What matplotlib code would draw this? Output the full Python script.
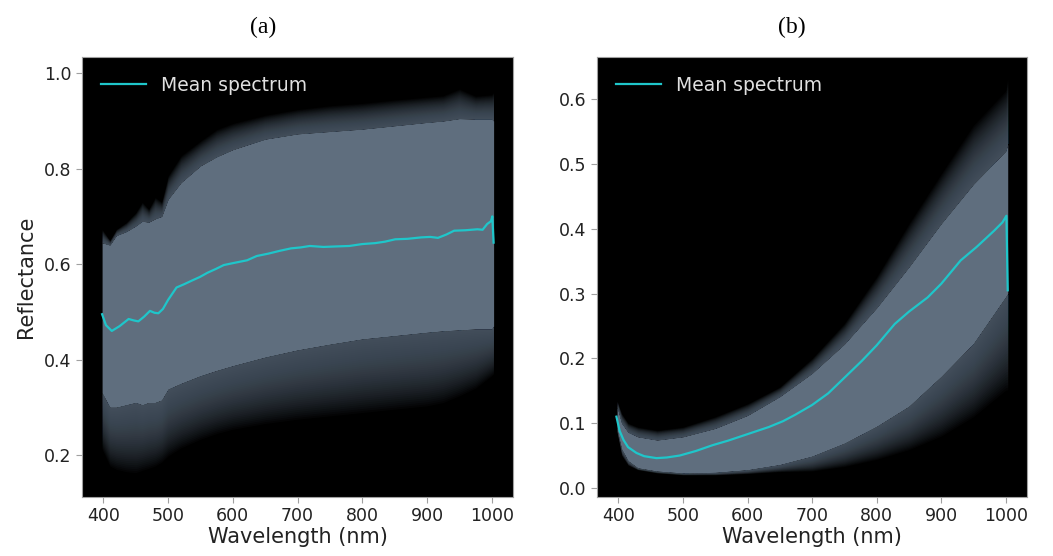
import numpy as np
import matplotlib.pyplot as plt

# ---- (a) envelopes of the spectra cloud ----
wl_a = [398, 410, 420, 435, 450, 460, 470, 480, 490, 500, 520, 550, 575,
        600, 650, 700, 750, 800, 850, 900, 925, 950, 975, 1000, 1003]
top_faint_a = [0.673, 0.650, 0.673, 0.687, 0.708, 0.730, 0.715, 0.740, 0.730,
               0.785, 0.827, 0.858, 0.882, 0.895, 0.912, 0.924, 0.932, 0.937,
               0.944, 0.950, 0.953, 0.967, 0.952, 0.955, 0.960]
top_core_a = [0.645, 0.640, 0.660, 0.668, 0.680, 0.690, 0.688, 0.695, 0.700,
              0.736, 0.771, 0.806, 0.825, 0.840, 0.862, 0.873, 0.878, 0.883,
              0.890, 0.897, 0.900, 0.905, 0.904, 0.904, 0.900]
low_core_a = [0.330, 0.300, 0.300, 0.305, 0.310, 0.305, 0.310, 0.310, 0.315,
              0.338, 0.350, 0.366, 0.377, 0.387, 0.405, 0.420, 0.432, 0.443,
              0.450, 0.457, 0.460, 0.462, 0.464, 0.464, 0.470]
low_faint_a = [0.212, 0.177, 0.170, 0.165, 0.163, 0.168, 0.172, 0.177, 0.185,
               0.198, 0.215, 0.233, 0.245, 0.254, 0.266, 0.275, 0.282, 0.289,
               0.296, 0.303, 0.310, 0.324, 0.340, 0.366, 0.370]

mean_wl_a = [398, 404, 413, 425, 439, 447, 454, 463, 472, 479, 485, 492, 500,
             513, 525, 536, 549, 561, 574, 586, 600, 622, 637, 655, 673, 690,
             705, 719, 740, 759, 780, 800, 820, 835, 851, 870, 891, 905, 917,
             930, 942, 960, 978, 986, 993, 999, 1001, 1003]
mean_a = [0.495, 0.472, 0.460, 0.470, 0.485, 0.482, 0.480, 0.490, 0.502, 0.498,
          0.497, 0.506, 0.525, 0.551, 0.558, 0.565, 0.573, 0.582, 0.590, 0.598,
          0.602, 0.608, 0.617, 0.622, 0.628, 0.633, 0.635, 0.638, 0.636, 0.637,
          0.638, 0.642, 0.644, 0.647, 0.652, 0.653, 0.656, 0.657, 0.655, 0.662,
          0.670, 0.671, 0.673, 0.672, 0.684, 0.690, 0.700, 0.645]

# ---- (b) ----
wl_b = [398, 405, 415, 430, 460, 500, 550, 600, 650, 700, 750, 800, 850, 900,
        950, 1000, 1003]
top_faint_b = [0.135, 0.115, 0.100, 0.094, 0.089, 0.094, 0.110, 0.130, 0.156,
               0.200, 0.254, 0.326, 0.408, 0.485, 0.560, 0.613, 0.633]
top_core_b = [0.125, 0.100, 0.086, 0.079, 0.074, 0.079, 0.092, 0.112, 0.141,
              0.177, 0.222, 0.278, 0.341, 0.408, 0.469, 0.520, 0.530]
low_core_b = [0.090, 0.060, 0.042, 0.031, 0.026, 0.023, 0.024, 0.028, 0.036,
              0.049, 0.069, 0.095, 0.126, 0.172, 0.223, 0.295, 0.300]
low_faint_b = [0.085, 0.050, 0.035, 0.028, 0.023, 0.020, 0.020, 0.022, 0.025,
               0.026, 0.033, 0.044, 0.059, 0.080, 0.110, 0.151, 0.151]

mean_wl_b = [397, 402, 408, 415, 428, 440, 459, 475, 495, 520, 546, 570, 597,
             615, 633, 655, 674, 700, 725, 750, 777, 800, 828, 850, 879, 900,
             930, 955, 982, 995, 1001, 1003]
mean_b = [0.110, 0.088, 0.074, 0.063, 0.054, 0.049, 0.046, 0.047, 0.050, 0.057,
          0.066, 0.073, 0.082, 0.088, 0.094, 0.103, 0.113, 0.128, 0.146, 0.170,
          0.196, 0.220, 0.253, 0.272, 0.294, 0.315, 0.351, 0.372, 0.397, 0.410,
          0.420, 0.305]

band_col = '#5f6e7e'
mean_col = '#1fc6ca'


def draw_cloud(ax, wl, tf, tc, lc, lf, n=36, a=0.045):
    wl = np.array(wl)
    tf, tc, lc, lf = map(np.array, (tf, tc, lc, lf))
    ax.fill_between(wl, lc, tc, color=band_col, lw=0)
    # fading edges: overlapping layers so density drops towards the outer edge
    for k in range(1, n + 1):
        t = k / n
        ax.fill_between(wl, tc, tc + (tf - tc) * t, color=band_col, alpha=a, lw=0)
        ax.fill_between(wl, lc + (lf - lc) * t, lc, color=band_col, alpha=a, lw=0)


def style(ax):
    ax.set_facecolor('black')
    for s in ax.spines.values():
        s.set_color('#a0a0a0')
        s.set_linewidth(0.8)
    ax.tick_params(colors='#a0a0a0', labelcolor='#222222', labelsize=12.5,
                   length=4, width=0.8)
    ax.set_xlim(367, 1033)
    ax.set_xticks([400, 500, 600, 700, 800, 900, 1000])
    ax.set_xlabel('Wavelength (nm)', fontsize=15, color='#222222', labelpad=1)
    leg = ax.legend(loc='upper left', frameon=False, fontsize=13.5,
                    handlelength=2.4, borderaxespad=0.6)
    for t in leg.get_texts():
        t.set_color('#e0e0e0')


fig = plt.figure(figsize=(10.53, 5.56), dpi=100)
ax1 = fig.add_axes([0.0779, 0.1061, 0.4093, 0.7914])
ax2 = fig.add_axes([0.5670, 0.1061, 0.4084, 0.7914])

draw_cloud(ax1, wl_a, top_faint_a, top_core_a, low_core_a, low_faint_a)
ax1.plot(mean_wl_a, mean_a, color=mean_col, lw=1.6, label='Mean spectrum')
ax1.set_ylim(0.112, 1.034)
ax1.set_yticks([0.2, 0.4, 0.6, 0.8, 1.0])
ax1.set_ylabel('Reflectance', fontsize=15, color='#222222', labelpad=6)
style(ax1)

draw_cloud(ax2, wl_b, top_faint_b, top_core_b, low_core_b, low_faint_b)
ax2.plot(mean_wl_b, mean_b, color=mean_col, lw=1.6, label='Mean spectrum')
ax2.set_ylim(-0.014, 0.665)
ax2.set_yticks([0.0, 0.1, 0.2, 0.3, 0.4, 0.5, 0.6])
style(ax2)

fig.text(0.25, 0.951, '(a)', ha='center', va='center', fontsize=17,
         family='Liberation Serif', color='black')
fig.text(0.752, 0.951, '(b)', ha='center', va='center', fontsize=17,
         family='Liberation Serif', color='black')

fig.savefig('out.png', dpi=100, facecolor='white')
